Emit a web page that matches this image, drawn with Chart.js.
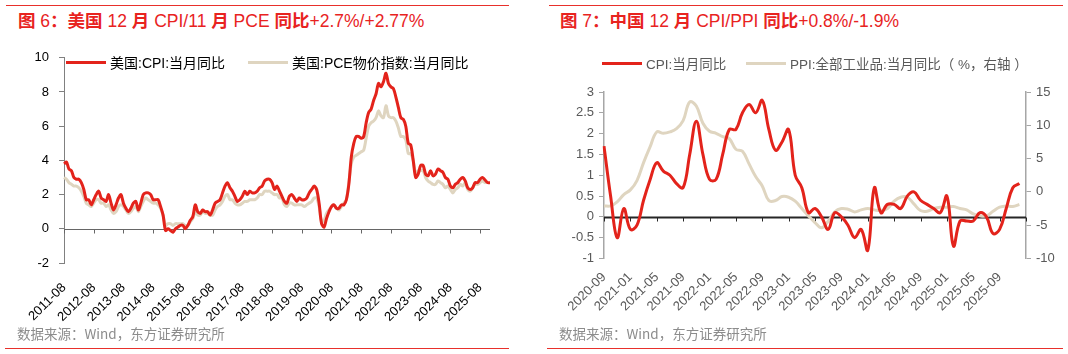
<!DOCTYPE html>
<html>
<head>
  <meta charset="utf-8">
  <title>美国/中国 CPI</title>
  <script src="https://cdn.jsdelivr.net/npm/chart.js"></script>
  <style>
    body {
      margin: 0;
      background: #fff;
      font-family: 'Liberation Sans', Arial, 'Noto Sans CJK SC', sans-serif;
    }
    #page {
      position: relative;
      width: 1068px;
      height: 354px;
      overflow: hidden;
    }
    .rule {
      position: absolute;
      height: 1px;
      background: #e8302b;
    }
    .title {
      position: absolute;
      top: 7px;
      font-size: 17.5px;
      color: #e8231f;
      white-space: nowrap;
      font-family: 'Liberation Sans', Arial, 'Noto Sans CJK SC', sans-serif;
    }
    .title b {
      font-family: 'Noto Sans CJK SC', sans-serif;
      font-weight: 700;
    }
    .src {
      position: absolute;
      top: 323px;
      font-size: 13.5px;
      color: #8c8c8c;
      white-space: nowrap;
      font-family: 'Noto Sans CJK SC', sans-serif;
    }
    .box {
      position: absolute;
      top: 40px;
      width: 534px;
      height: 290px;
    }
    .legend {
      position: absolute;
      white-space: nowrap;
      font-family: 'Liberation Sans', Arial, 'Noto Sans CJK SC', sans-serif;
    }
    .legend span.item {
      position: absolute;
      top: 0;
      display: flex;
      align-items: center;
    }
    .legend i {
      display: inline-block;
      width: 40px;
      height: 3px;
      margin-right: 4px;
    }
  </style>
</head>
<body>
<div id="page">
  <div class="rule" style="left:6px;width:503px;top:5px"></div>
  <div class="title" style="left:18px"><b>图</b> 6<b>：美国</b> 12 <b>月</b> CPI/11 <b>月</b> PCE <b>同比</b>+2.7%/+2.77%</div>
  <div class="box" style="left:0"><canvas id="usChart"></canvas></div>
  <div class="legend" style="left:66px;top:52px;font-size:14px;color:#000">
    <span class="item" style="left:0"><i style="background:#e3231b"></i>美国:CPI:当月同比</span>
    <span class="item" style="left:182px"><i style="background:#dfd5c0"></i>美国:PCE物价指数:当月同比</span>
  </div>
  <div class="src" style="left:17px">数据来源：Wind，东方证券研究所</div>
  <div class="rule" style="left:5px;width:504px;top:348px"></div>

  <div class="rule" style="left:549px;width:514px;top:5px"></div>
  <div class="title" style="left:560px"><b>图</b> 7<b>：中国</b> 12 <b>月</b> CPI/PPI <b>同比</b>+0.8%/-1.9%</div>
  <div class="box" style="left:534px"><canvas id="cnChart"></canvas></div>
  <div class="legend" style="left:602px;top:53px;font-size:13.5px;color:#595959">
    <span class="item" style="left:0"><i style="background:#e3231b"></i>CPI:当月同比</span>
    <span class="item" style="left:144px"><i style="background:#dfd5c0"></i>PPI:全部工业品:当月同比（ %，右轴 ）</span>
  </div>
  <div class="src" style="left:559px">数据来源：Wind，东方证券研究所</div>
  <div class="rule" style="left:547px;width:516px;top:348px"></div>
</div>

<script>
  // 美国: 2011-08 ~ 2025-12, monthly
  const usMonths = [];
  for (let y = 2011, m = 8; y < 2026; m++) {
    if (m > 12) { m = 1; y++; if (y === 2026) break; }
    usMonths.push(y + '-' + String(m).padStart(2, '0'));
  }

  const usCpi = [
    3.8, 3.9, 3.5, 3.4, 3.0,
    2.9, 2.9, 2.7, 2.3, 1.7, 1.7, 1.4, 1.7, 2.0, 2.2, 1.8, 1.7,
    1.6, 2.0, 1.5, 1.1, 1.4, 1.8, 2.0, 1.5, 1.2, 1.0, 1.2, 1.5,
    1.6, 1.1, 1.5, 2.0, 2.1, 2.1, 2.0, 1.7, 1.7, 1.7, 1.3, 0.8,
    -0.1, 0.0, -0.1, -0.2, 0.0, 0.1, 0.2, 0.2, 0.0, 0.2, 0.5, 0.7,
    1.4, 1.0, 0.9, 1.1, 1.0, 1.0, 0.8, 1.1, 1.5, 1.6, 1.7, 2.1,
    2.5, 2.7, 2.4, 2.2, 1.9, 1.6, 1.7, 1.9, 2.2, 2.0, 2.2, 2.1,
    2.1, 2.2, 2.4, 2.5, 2.8, 2.9, 2.9, 2.7, 2.3, 2.5, 2.2, 1.9,
    1.6, 1.5, 1.9, 2.0, 1.8, 1.6, 1.8, 1.7, 1.7, 1.8, 2.1, 2.3,
    2.5, 2.3, 1.5, 0.3, 0.1, 0.6, 1.0, 1.3, 1.4, 1.2, 1.2, 1.4,
    1.4, 1.7, 2.6, 4.2, 5.0, 5.4, 5.4, 5.3, 5.4, 6.2, 6.8, 7.0,
    7.5, 7.9, 8.5, 8.3, 8.6, 9.1, 8.5, 8.3, 8.2, 7.7, 7.1, 6.5,
    6.4, 6.0, 5.0, 4.9, 4.0, 3.0, 3.2, 3.7, 3.7, 3.2, 3.1, 3.4,
    3.1, 3.2, 3.5, 3.4, 3.3, 3.0, 2.9, 2.5, 2.4, 2.6, 2.7, 2.9,
    3.0, 2.8, 2.4, 2.3, 2.4, 2.7, 2.7, 2.9, 3.0, null, 2.7, 2.7
  ];

  const usPce = [
    3.0, 2.9, 2.7, 2.6, 2.5,
    2.5, 2.4, 2.2, 1.9, 1.5, 1.4, 1.3, 1.5, 1.7, 1.7, 1.5, 1.5,
    1.3, 1.4, 1.1, 0.9, 1.0, 1.3, 1.4, 1.3, 1.1, 0.9, 1.0, 1.2,
    1.3, 1.0, 1.3, 1.6, 1.8, 1.7, 1.6, 1.5, 1.5, 1.4, 1.2, 0.8,
    0.2, 0.3, 0.3, 0.2, 0.3, 0.3, 0.3, 0.3, 0.2, 0.2, 0.4, 0.6,
    1.0, 0.8, 0.8, 1.0, 0.9, 0.9, 0.8, 0.8, 1.1, 1.3, 1.4, 1.6,
    1.9, 2.0, 1.7, 1.7, 1.5, 1.4, 1.4, 1.5, 1.6, 1.6, 1.7, 1.7,
    1.7, 1.8, 2.0, 2.0, 2.2, 2.2, 2.2, 2.1, 2.0, 2.0, 1.8, 1.8,
    1.4, 1.3, 1.5, 1.5, 1.4, 1.4, 1.4, 1.4, 1.3, 1.4, 1.5, 1.6,
    1.8, 1.8, 1.3, 0.4, 0.5, 0.9, 1.1, 1.3, 1.4, 1.2, 1.1, 1.3,
    1.5, 1.7, 2.7, 3.8, 4.2, 4.3, 4.4, 4.5, 4.6, 5.3, 6.0, 6.2,
    6.3, 6.5, 6.9, 6.6, 6.5, 7.2, 6.6, 6.5, 6.5, 6.3, 5.9, 5.4,
    5.4, 5.2, 4.4, 4.4, 4.0, 3.2, 3.4, 3.4, 3.4, 3.0, 2.8, 2.7,
    2.6, 2.6, 2.8, 2.7, 2.6, 2.4, 2.5, 2.3, 2.1, 2.3, 2.4, 2.6,
    2.5, 2.7, 2.3, 2.2, 2.4, 2.6, 2.6, 2.7, 2.8, 2.7, 2.8
  ];

  // 中国: 2020-09 ~ 2025-12, axis runs to 2026-01
  const cnMonths = [];
  for (let y = 2020, m = 9; ; m++) {
    if (m > 12) { m = 1; y++; }
    cnMonths.push(y + '-' + String(m).padStart(2, '0'));
    if (y === 2026) break;
  }

  const cnCpi = [
    1.7, 0.5, -0.5, 0.2,
    -0.3, -0.2, 0.4, 0.9, 1.3, 1.1, 1.0, 0.8, 0.7, 1.5, 2.3, 1.5,
    0.9, 0.9, 1.5, 2.1, 2.1, 2.5, 2.7, 2.5, 2.8, 2.1, 1.6, 1.8,
    2.1, 1.0, 0.7, 0.1, 0.2, 0.0, -0.3, 0.1, 0.0, -0.2, -0.5, -0.3,
    -0.8, 0.7, 0.1, 0.3, 0.3, 0.2, 0.5, 0.6, 0.4, 0.3, 0.2, 0.1,
    0.5, -0.7, -0.1, -0.1, -0.1, 0.1, 0.0, -0.4, -0.3, 0.2, 0.7, 0.8
  ];

  const cnPpi = [
    -2.1, -2.1, -1.5, -0.4,
    0.3, 1.7, 4.4, 6.8, 9.0, 8.8, 9.0, 9.5, 10.7, 13.5, 12.9, 10.3,
    9.1, 8.8, 8.3, 8.0, 6.4, 6.1, 4.2, 2.3, 0.9, -1.3, -1.3, -0.7,
    -0.8, -1.4, -2.5, -3.6, -4.6, -5.4, -4.4, -3.0, -2.5, -2.6, -3.0, -2.7,
    -2.5, -2.7, -2.8, -2.5, -1.4, -0.8, -0.8, -1.8, -2.8, -2.9, -2.5, -2.3,
    -2.3, -2.2, -2.5, -2.7, -3.3, -3.6, -3.6, -2.9, -2.3, -2.1, -2.2, -1.9
  ];

  const RED = '#e3231b';
  const BEIGE = '#dfd5c0';
  const FONT = "'Liberation Sans', Arial, sans-serif";

  // zero line with small tick marks hanging below it
  const zeroAxis = {
    id: 'zeroAxis',
    beforeDatasetsDraw(chart, args, opts) {
      const { ctx, chartArea, scales } = chart;
      const y = Math.round(scales.y.getPixelForValue(0)) + 0.5;
      ctx.save();
      ctx.strokeStyle = opts.color;
      ctx.lineWidth = opts.width;
      ctx.beginPath();
      ctx.moveTo(chartArea.left, y);
      ctx.lineTo(chartArea.right, y);
      ctx.stroke();
      ctx.lineWidth = 1;
      ctx.beginPath();
      for (let i = 0; i < chart.data.labels.length; i += opts.every) {
        const x = Math.round(scales.x.getPixelForValue(i)) + 0.5;
        ctx.moveTo(x, y);
        ctx.lineTo(x, y + opts.tick);
      }
      ctx.stroke();
      ctx.restore();
    }
  };

  new Chart(document.getElementById('usChart'), {
    type: 'line',
    data: {
      labels: usMonths,
      datasets: [
        { label: '美国:CPI:当月同比', data: usCpi, borderColor: RED, backgroundColor: RED,
          borderWidth: 3, pointRadius: 0, tension: 0.3, spanGaps: true, order: 1 },
        { label: '美国:PCE物价指数:当月同比', data: usPce, borderColor: BEIGE, backgroundColor: BEIGE,
          borderWidth: 3, pointRadius: 0, tension: 0.3, order: 2 }
      ]
    },
    options: {
      responsive: true,
      maintainAspectRatio: false,
      animation: false,
      layout: { padding: { top: 15, right: 44, left: 0, bottom: 0 } },
      plugins: {
        legend: { display: false },
        tooltip: { enabled: false },
        zeroAxis: { color: '#666', width: 1, tick: 4, every: 12 }
      },
      scales: {
        x: {
          offset: false,
          grid: { display: false },
          border: { display: false },
          ticks: {
            autoSkip: false, minRotation: 45, maxRotation: 45, padding: 9,
            color: '#000', font: { family: FONT, size: 13 },
            callback(v, i) { return i % 12 === 0 ? this.getLabelForValue(v) : null; }
          },
          afterFit(s) { s.height = 67; }
        },
        y: {
          min: -2, max: 10,
          ticks: { stepSize: 2, color: '#000', font: { family: FONT, size: 13 }, padding: 10 },
          grid: { drawOnChartArea: false, tickLength: 5, color: '#808080' },
          border: { color: '#808080' },
          afterFit(s) { s.width = 64; }
        }
      }
    },
    plugins: [zeroAxis]
  });

  new Chart(document.getElementById('cnChart'), {
    type: 'line',
    data: {
      labels: cnMonths,
      datasets: [
        { label: 'CPI:当月同比', data: cnCpi, yAxisID: 'y', borderColor: RED, backgroundColor: RED,
          borderWidth: 3, pointRadius: 0, tension: 0.4, order: 1 },
        { label: 'PPI:全部工业品:当月同比（%，右轴）', data: cnPpi, yAxisID: 'y2', borderColor: BEIGE, backgroundColor: BEIGE,
          borderWidth: 3, pointRadius: 0, tension: 0.4, order: 2 }
      ]
    },
    options: {
      responsive: true,
      maintainAspectRatio: false,
      animation: false,
      layout: { padding: { top: 52, right: 0, left: 0, bottom: 0 } },
      plugins: {
        legend: { display: false },
        tooltip: { enabled: false },
        zeroAxis: { color: '#262626', width: 2, tick: 4, every: 4 }
      },
      scales: {
        x: {
          offset: false,
          grid: { display: false },
          border: { display: false },
          ticks: {
            autoSkip: false, minRotation: 45, maxRotation: 45, padding: 3,
            color: '#595959', font: { family: FONT, size: 13 },
            callback(v, i) { return i % 4 === 0 && i <= 60 ? this.getLabelForValue(v) : null; }
          },
          afterFit(s) { s.height = 71.5; }
        },
        y: {
          position: 'left',
          min: -1, max: 3,
          ticks: { stepSize: 0.5, color: '#595959', font: { family: FONT, size: 13 }, padding: 5,
                   callback: v => String(v) },
          grid: { drawOnChartArea: false, tickLength: 5, color: '#a6a6a6' },
          border: { color: '#a6a6a6', width: 1.5 },
          afterFit(s) { s.width = 70; }
        },
        y2: {
          position: 'right',
          min: -10, max: 15,
          ticks: { stepSize: 5, color: '#595959', font: { family: FONT, size: 13 }, padding: 5 },
          grid: { drawOnChartArea: false, tickLength: 5, color: '#a6a6a6' },
          border: { color: '#a6a6a6', width: 1.5 },
          afterFit(s) { s.width = 42; }
        }
      }
    },
    plugins: [zeroAxis]
  });
</script>
</body>
</html>
